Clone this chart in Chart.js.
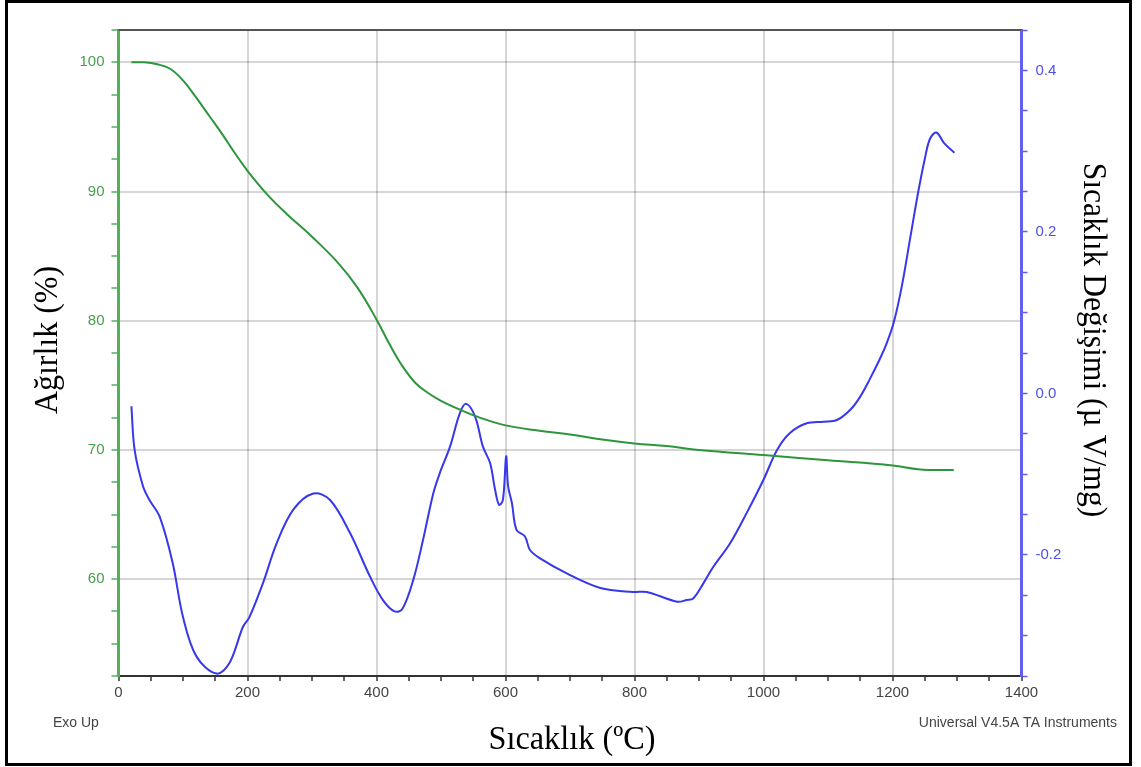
<!DOCTYPE html>
<html>
<head>
<meta charset="utf-8">
<script src="https://cdn.jsdelivr.net/npm/chart.js@4.4.1/dist/chart.umd.min.js"></script>
<style>
    body { margin: 0; background: #fff; }
    #wrap { position: relative; width: 1141px; height: 767px; }
    #frame { position: absolute; left: 5px; top: 0; width: 1127px; height: 766px; box-sizing: border-box; border: 3px solid #000; pointer-events: none; }
</style>
</head>
<body>
<div id="wrap">
    <canvas id="tgaChart" width="1141" height="767"></canvas>
    <div id="frame"></div>
</div>
<script>
//TGA (ağırlık) eğrisi
var weightTemp = [20, 40, 60, 80, 100, 120, 140, 160, 180, 200, 230, 260, 300, 340, 370, 400, 420, 440, 460, 480, 500, 530, 560, 600, 650, 700, 750, 800, 850, 900, 1000, 1100, 1200, 1240, 1260, 1295];
var weightVal = [100.0, 100.0, 99.85, 99.5, 98.6, 97.3, 95.9, 94.5, 93.0, 91.6, 89.8, 88.3, 86.5, 84.5, 82.6, 80.1, 78.2, 76.5, 75.2, 74.4, 73.8, 73.1, 72.5, 71.9, 71.5, 71.2, 70.8, 70.5, 70.3, 70.0, 69.6, 69.2, 68.8, 68.5, 68.45, 68.45];

//DTA (sıcaklık değişimi) eğrisi
var dtaTemp = [20, 25, 38, 48, 64, 84, 100, 121, 152, 172, 193, 203, 224, 245, 271, 302, 328, 359, 390, 410, 428, 440, 457, 472, 488, 498, 514, 529, 539, 553, 565, 576, 584, 590, 596, 601, 604, 610, 617, 630, 638, 653, 695, 747, 798, 819, 866, 881, 891, 907, 922, 948, 974, 1000, 1021, 1041, 1067, 1093, 1114, 1135, 1150, 1165, 1180, 1190, 1202, 1215, 1228, 1240, 1250, 1258, 1268, 1280, 1296];
var dtaVal = [-0.016, -0.070, -0.115, -0.132, -0.153, -0.210, -0.277, -0.326, -0.347, -0.334, -0.289, -0.277, -0.235, -0.186, -0.144, -0.124, -0.132, -0.173, -0.227, -0.256, -0.270, -0.267, -0.231, -0.182, -0.124, -0.099, -0.066, -0.025, -0.013, -0.029, -0.066, -0.086, -0.120, -0.138, -0.132, -0.078, -0.115, -0.136, -0.169, -0.177, -0.194, -0.204, -0.223, -0.241, -0.246, -0.246, -0.258, -0.256, -0.254, -0.235, -0.215, -0.186, -0.148, -0.107, -0.070, -0.049, -0.037, -0.035, -0.033, -0.020, -0.004, 0.018, 0.042, 0.060, 0.088, 0.135, 0.195, 0.250, 0.290, 0.315, 0.323, 0.310, 0.298];

//eksen etiketleri
var xTicks = [0, 200, 400, 600, 800, 1000, 1200, 1400];
var weightTicks = [60, 70, 80, 90, 100];
var dtaTicks = [-0.2, 0.0, 0.2, 0.4];
var xMinorStep = 50;
var weightMinorStep = 2.5;
var dtaMinorStep = 0.05;

var greenLine = "rgb(45,150,60)";
var greenAxis = "rgb(85,175,90)";
var blueLine = "rgb(55,55,235)";
var blueAxis = "rgb(95,95,240)";
var gridColor = "rgba(0,0,0,0.16)";

function isMajor(value, list) {
    for (var i = 0; i < list.length; i++) {
        if (Math.abs(list[i] - value) < 1e-6) return true;
    }
    return false;
}

//ara çentikler
function minorTicks(scale, step) {
    var ticks = [];
    var first = Math.ceil(scale.min / step - 1e-9);
    var last = Math.floor(scale.max / step + 1e-9);
    for (var i = first; i <= last; i++) {
        ticks.push({ value: Math.round(i * step * 1e6) / 1e6 });
    }
    scale.ticks = ticks;
}

function toPoints(xs, ys) {
    var pts = [];
    for (var i = 0; i < xs.length; i++) pts.push({ x: xs[i], y: ys[i] });
    return pts;
}

function drawText(ctx, text, x, y, angle, font, sx) {
    ctx.save();
    ctx.translate(x, y);
    ctx.rotate(angle);
    ctx.scale(sx, 1);
    ctx.font = font;
    ctx.textAlign = "center";
    ctx.textBaseline = "middle";
    ctx.fillText(text, 0, 0);
    ctx.restore();
}

//başlıklar ve notlar
var textPlugin = {
    id: "textPlugin",
    afterDraw: function (chart) {
        var ctx = chart.ctx;
        var area = chart.chartArea;
        ctx.save();
        ctx.strokeStyle = "#555";
        ctx.lineWidth = 2;
        ctx.beginPath();
        ctx.moveTo(area.left, area.top);
        ctx.lineTo(area.right, area.top);
        ctx.stroke();
        ctx.fillStyle = "#000";
        var serif = "34px 'Liberation Serif', 'DejaVu Serif', serif";
        drawText(ctx, "Ağırlık (%)", 48, 340, -Math.PI / 2, serif, 0.94);
        drawText(ctx, "Sıcaklık Değişimi (µ V/mg)", 1093, 340, Math.PI / 2, serif, 0.93);
        drawText(ctx, "Sıcaklık (ºC)", 572, 740, 0, serif, 0.95);
        ctx.fillStyle = "#444";
        ctx.font = "14px 'Liberation Sans', Arial, sans-serif";
        ctx.textBaseline = "middle";
        ctx.textAlign = "left";
        ctx.fillText("Exo Up", 53, 723);
        ctx.textAlign = "right";
        ctx.fillText("Universal V4.5A TA Instruments", 1117, 723);
        ctx.restore();
    }
};

function initChart() {
    var canvas = document.getElementById("tgaChart").getContext("2d");
    var tickFont = { family: "'Liberation Sans', Arial, sans-serif", size: 15 };
    new Chart(canvas, {
        type: "line",
        data: {
            datasets: [
                {
                    label: "Ağırlık (%)",
                    data: toPoints(weightTemp, weightVal),
                    yAxisID: "yW",
                    borderColor: greenLine,
                    borderWidth: 2,
                    pointRadius: 0,
                    tension: 0.4,
                    fill: false
                },
                {
                    label: "Sıcaklık Değişimi (µV/mg)",
                    data: toPoints(dtaTemp, dtaVal),
                    yAxisID: "yD",
                    borderColor: blueLine,
                    borderWidth: 2,
                    pointRadius: 0,
                    tension: 0.35,
                    fill: false
                }
            ]
        },
        options: {
            responsive: false,
            animation: false,
            devicePixelRatio: 1,
            layout: { padding: { top: 30, left: 0, right: 0, bottom: 0 } },
            plugins: { legend: { display: false }, tooltip: { enabled: false } },
            scales: {
                x: {
                    type: "linear",
                    position: "bottom",
                    min: 0,
                    max: 1400,
                    afterBuildTicks: function (scale) { minorTicks(scale, xMinorStep); },
                    afterFit: function (scale) { scale.height = 91; },
                    ticks: {
                        autoSkip: false,
                        maxRotation: 0,
                        color: "#444",
                        font: tickFont,
                        padding: 3,
                        callback: function (v) { return isMajor(v, xTicks) ? String(v) : ""; }
                    },
                    grid: {
                        color: function (c) {
                            var v = c.tick ? c.tick.value : -1;
                            return (isMajor(v, xTicks) && v > 0 && v < 1400) ? gridColor : "rgba(0,0,0,0)";
                        },
                        lineWidth: 2,
                        tickColor: "#333",
                        tickWidth: 1.5,
                        tickLength: 5
                    },
                    border: { color: "#333", width: 2 }
                },
                yW: {
                    type: "linear",
                    position: "left",
                    min: 52.5,
                    max: 102.5,
                    afterBuildTicks: function (scale) { minorTicks(scale, weightMinorStep); },
                    afterFit: function (scale) { scale.width = 118.5; },
                    ticks: {
                        color: "rgb(70,160,75)",
                        font: tickFont,
                        padding: 7,
                        callback: function (v) { return isMajor(v, weightTicks) ? String(v) : ""; }
                    },
                    grid: {
                        color: function (c) {
                            return (c.tick && isMajor(c.tick.value, weightTicks)) ? gridColor : "rgba(0,0,0,0)";
                        },
                        lineWidth: 2,
                        tickColor: greenAxis,
                        tickWidth: 1.5,
                        tickLength: 7
                    },
                    border: { color: greenAxis, width: 3 }
                },
                yD: {
                    type: "linear",
                    position: "right",
                    min: -0.35,
                    max: 0.45,
                    afterBuildTicks: function (scale) { minorTicks(scale, dtaMinorStep); },
                    afterFit: function (scale) { scale.width = 119.5; },
                    ticks: {
                        color: "rgb(80,80,235)",
                        font: tickFont,
                        padding: 8,
                        callback: function (v) { return isMajor(v, dtaTicks) ? v.toFixed(1) : ""; }
                    },
                    grid: {
                        drawOnChartArea: false,
                        tickColor: blueAxis,
                        tickWidth: 1.5,
                        tickLength: 6
                    },
                    border: { color: blueAxis, width: 3 }
                }
            }
        },
        plugins: [textPlugin]
    });
}

initChart();
</script>
</body>
</html>
